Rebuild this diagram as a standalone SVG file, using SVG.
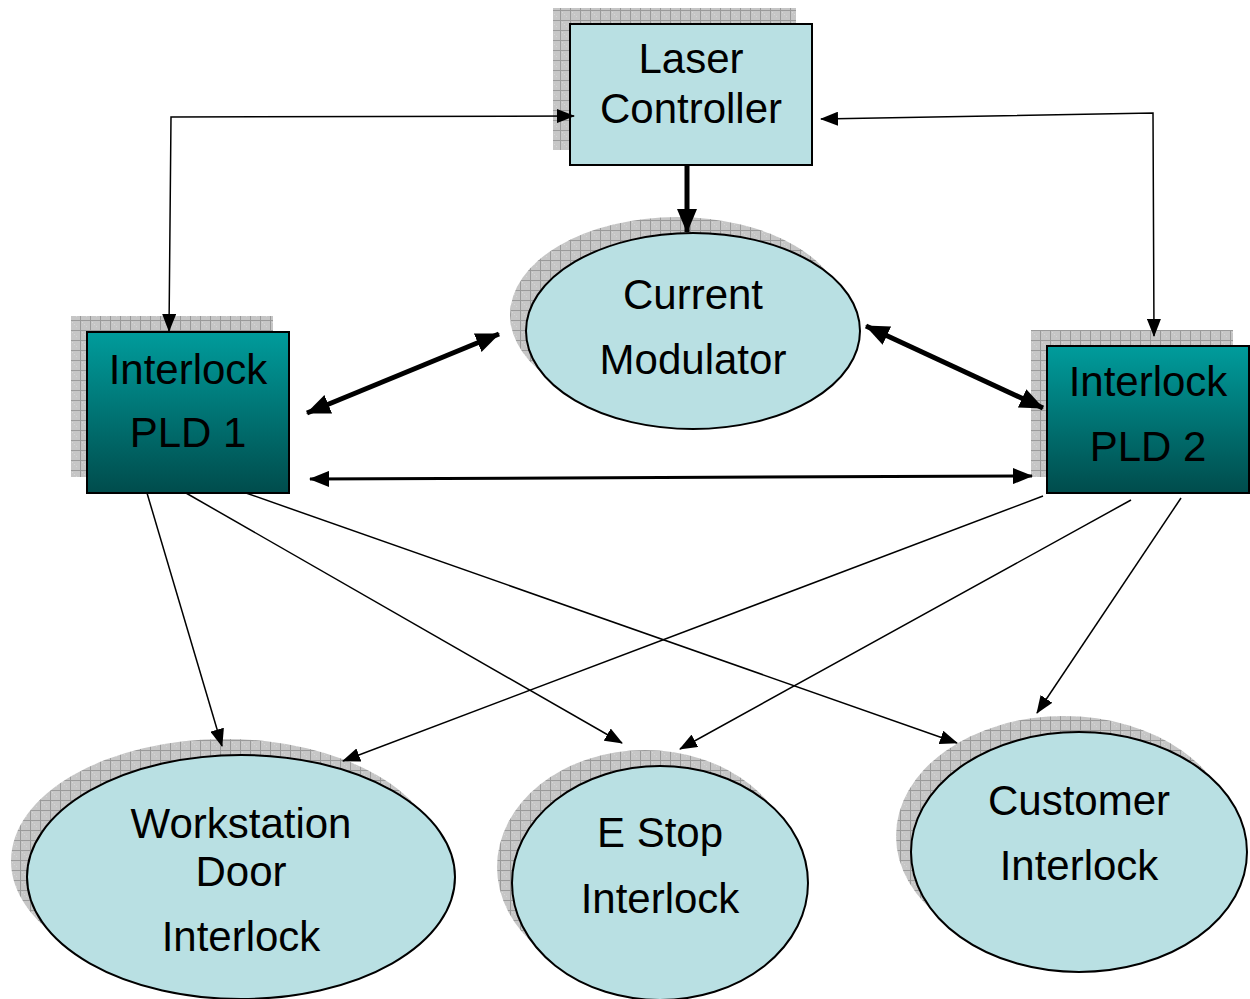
<svg xmlns="http://www.w3.org/2000/svg" width="1250" height="999" viewBox="0 0 1250 999">
  <defs>
    <!-- hatched drop-shadow fill -->
    <pattern id="grid" width="10" height="10" patternUnits="userSpaceOnUse">
      <rect width="10" height="10" fill="#c6c6c6"/>
      <rect x="0" y="0" width="1" height="1" fill="#d6d6d6"/>
      <rect x="2" y="2" width="1" height="1" fill="#d6d6d6"/>
      <rect x="4" y="4" width="1" height="1" fill="#d6d6d6"/>
      <rect x="6" y="6" width="1" height="1" fill="#d6d6d6"/>
      <path d="M0.5 0V10M0 0.5H10" stroke="#9a9a9a" stroke-width="1"/>
    </pattern>
    <linearGradient id="teal" x1="0" y1="0" x2="0" y2="1">
      <stop offset="0" stop-color="#009c9c"/>
      <stop offset="1" stop-color="#004c4c"/>
    </linearGradient>
    <marker id="ah" markerUnits="userSpaceOnUse" viewBox="0 0 18 14" markerWidth="18" markerHeight="14" refX="17" refY="7" orient="auto-start-reverse">
      <path d="M0 0L18 7L0 14z" fill="#000"/>
    </marker>
    <marker id="ahm" markerUnits="userSpaceOnUse" viewBox="0 0 20 16" markerWidth="20" markerHeight="16" refX="19" refY="8" orient="auto-start-reverse">
      <path d="M0 0L20 8L0 16z" fill="#000"/>
    </marker>
    <marker id="ahb" markerUnits="userSpaceOnUse" viewBox="0 0 24 20" markerWidth="24" markerHeight="20" refX="23" refY="10" orient="auto-start-reverse">
      <path d="M0 0L24 10L0 20z" fill="#000"/>
    </marker>
  </defs>
  <style>
    .shadow { fill: url(#grid); }
    .pale { fill: #b9e0e3; stroke: #000; stroke-width: 2; }
    .pld { fill: url(#teal); stroke: #000; stroke-width: 2; }
    .lbl { font-family: "Liberation Sans", Arial, sans-serif; font-size: 42px; fill: #000; text-anchor: middle; }
    .thin { fill: none; stroke: #000; stroke-width: 1.5; }
    .mid { fill: none; stroke: #000; stroke-width: 3; }
    .thick { fill: none; stroke: #000; stroke-width: 5; }
  </style>

  <rect width="1250" height="999" fill="#fff"/>

  <g id="laser-controller">
    <rect class="shadow" x="553" y="8" width="243" height="142"/>
    <rect class="pale" x="570" y="24" width="242" height="141"/>
    <text class="lbl" x="691" y="73">Laser</text>
    <text class="lbl" x="691" y="123">Controller</text>
  </g>

  <g id="current-modulator">
    <ellipse class="shadow" cx="677" cy="315" rx="167" ry="98"/>
    <ellipse class="pale" cx="693" cy="331" rx="167" ry="98"/>
    <text class="lbl" x="693" y="309">Current</text>
    <text class="lbl" x="693" y="374">Modulator</text>
  </g>

  <g id="pld1">
    <rect class="shadow" x="71" y="316" width="202" height="161"/>
    <rect class="pld" x="87" y="332" width="202" height="161"/>
    <text class="lbl" x="188" y="384">Interlock</text>
    <text class="lbl" x="188" y="447">PLD 1</text>
  </g>

  <g id="pld2">
    <rect class="shadow" x="1031" y="330" width="202" height="147"/>
    <rect class="pld" x="1047" y="346" width="202" height="147"/>
    <text class="lbl" x="1148" y="396">Interlock</text>
    <text class="lbl" x="1148" y="461">PLD 2</text>
  </g>

  <g id="workstation-door">
    <ellipse class="shadow" cx="225" cy="861" rx="214" ry="122"/>
    <ellipse class="pale" cx="241" cy="877" rx="214" ry="122"/>
    <text class="lbl" x="241" y="838">Workstation</text>
    <text class="lbl" x="241" y="886">Door</text>
    <text class="lbl" x="241" y="951">Interlock</text>
  </g>

  <g id="e-stop">
    <ellipse class="shadow" cx="645" cy="867" rx="148" ry="117"/>
    <ellipse class="pale" cx="660" cy="883" rx="148" ry="117"/>
    <text class="lbl" x="660" y="847">E Stop</text>
    <text class="lbl" x="660" y="913">Interlock</text>
  </g>

  <g id="customer-interlock">
    <ellipse class="shadow" cx="1064" cy="836" rx="168" ry="120"/>
    <ellipse class="pale" cx="1079" cy="852" rx="168" ry="120"/>
    <text class="lbl" x="1079" y="815">Customer</text>
    <text class="lbl" x="1079" y="880">Interlock</text>
  </g>

  <g id="connectors">
    <polyline class="thin" points="574,116 171,117 169,331" marker-start="url(#ah)" marker-end="url(#ah)"/>
    <polyline class="thin" points="821,119 1153,113 1154,336" marker-start="url(#ah)" marker-end="url(#ah)"/>
    <line class="thick" x1="687" y1="166" x2="687" y2="232" marker-end="url(#ahb)"/>
    <line class="thick" x1="307" y1="413" x2="499" y2="334" marker-start="url(#ahb)" marker-end="url(#ahb)"/>
    <line class="thick" x1="866" y1="326" x2="1043" y2="408" marker-start="url(#ahb)" marker-end="url(#ahb)"/>
    <line class="mid" x1="310" y1="479" x2="1032" y2="476" marker-start="url(#ahm)" marker-end="url(#ahm)"/>
    <line class="thin" x1="147" y1="493" x2="222" y2="746" marker-end="url(#ah)"/>
    <line class="thin" x1="186" y1="493" x2="622" y2="743" marker-end="url(#ah)"/>
    <line class="thin" x1="246" y1="493" x2="957" y2="743" marker-end="url(#ah)"/>
    <line class="thin" x1="1043" y1="496" x2="343" y2="761" marker-end="url(#ah)"/>
    <line class="thin" x1="1131" y1="500" x2="680" y2="749" marker-end="url(#ah)"/>
    <line class="thin" x1="1181" y1="498" x2="1037" y2="713" marker-end="url(#ah)"/>
  </g>
</svg>
